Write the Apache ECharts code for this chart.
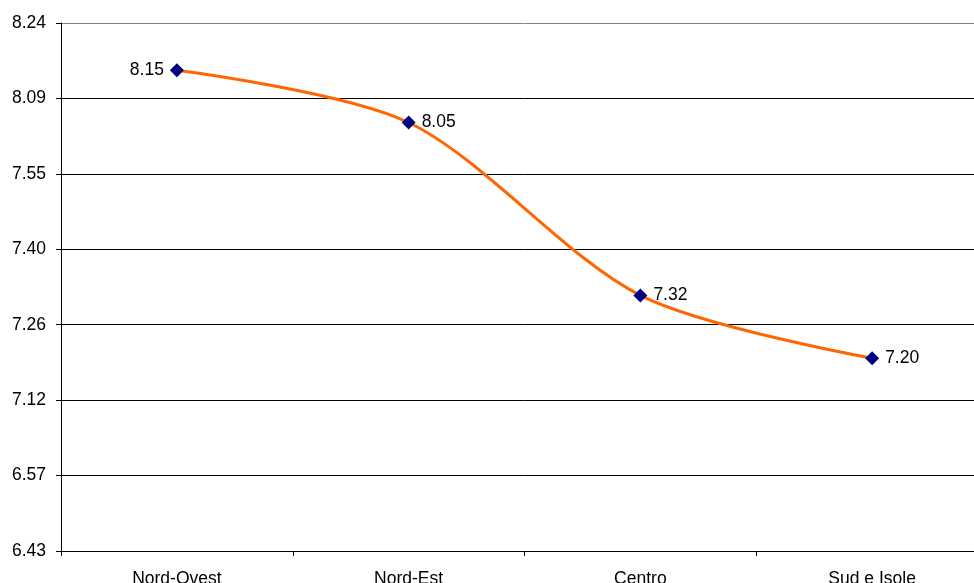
<!DOCTYPE html>
<html>
<head>
<meta charset="utf-8">
<script src="https://cdn.jsdelivr.net/npm/echarts@6/dist/echarts.min.js"></script>
<style>
  html, body { margin: 0; padding: 0; background: #fff; overflow: hidden; }
  /* the plot area runs a little past the right edge of the window */
  #chart { width: 988px; height: 583px; }
</style>
</head>
<body>
<div id="chart"></div>
<script>
// Regions and their average times (h.mm)
const categories = ['Nord-Ovest', 'Nord-Est', 'Centro', 'Sud e Isole'];
const timeValues = ['8.15', '8.05', '7.32', '7.20'];
const labelSides = ['left', 'right', 'right', 'right'];

// Value axis ticks (h.mm), spaced one hundredth of a day (14.4 min) apart
const tickLabels = ['6.43', '6.57', '7.12', '7.26', '7.40', '7.55', '8.09', '8.24'];
const axisMinMinutes = 403.2;   // 0.28 day
const axisStepMinutes = 14.4;   // 0.01 day

function toMinutes(hmm) {
  const [h, m] = hmm.split('.').map(Number);
  return h * 60 + m;
}

const seriesData = timeValues.map((t, i) => ({
  value: toMinutes(t),
  label: { position: labelSides[i] }
}));

const splitColors = tickLabels.map((_, i) => i === tickLabels.length - 1 ? '#808080' : '#000000');

const chart = echarts.init(document.getElementById('chart'));
chart.setOption({
  animation: false,
  backgroundColor: '#ffffff',
  textStyle: { fontFamily: 'Liberation Sans, Arial, sans-serif' },
  grid: { left: 61, right: 0, top: 23, height: 528, containLabel: false, outerBoundsMode: 'none' },
  xAxis: {
    type: 'category',
    data: categories,
    boundaryGap: true,
    axisLine: { lineStyle: { color: '#000', width: 1 } },
    axisTick: { show: true, alignWithLabel: false, length: 5, lineStyle: { color: '#000' } },
    axisLabel: { color: '#000', fontSize: 17.5, margin: 19 }
  },
  yAxis: {
    type: 'value',
    min: axisMinMinutes,
    max: axisMinMinutes + axisStepMinutes * (tickLabels.length - 1),
    interval: axisStepMinutes,
    axisLine: { show: true, lineStyle: { color: '#000', width: 1 } },
    axisTick: { show: true, length: 5, lineStyle: { color: '#000' } },
    axisLabel: {
      color: '#000',
      fontSize: 17.5,
      margin: 15,
      formatter: v => tickLabels[Math.round((v - axisMinMinutes) / axisStepMinutes)] || ''
    },
    splitLine: { show: true, lineStyle: { color: splitColors, width: 1 } }
  },
  series: [{
    type: 'line',
    data: seriesData,
    smooth: 0.3,
    symbol: 'diamond',
    symbolSize: 14,
    itemStyle: { color: '#000080' },
    lineStyle: { color: '#FF6600', width: 3 },
    label: {
      show: true,
      color: '#000',
      fontSize: 17.5,
      distance: 6,
      formatter: p => timeValues[p.dataIndex]
    }
  }]
});
</script>
</body>
</html>
